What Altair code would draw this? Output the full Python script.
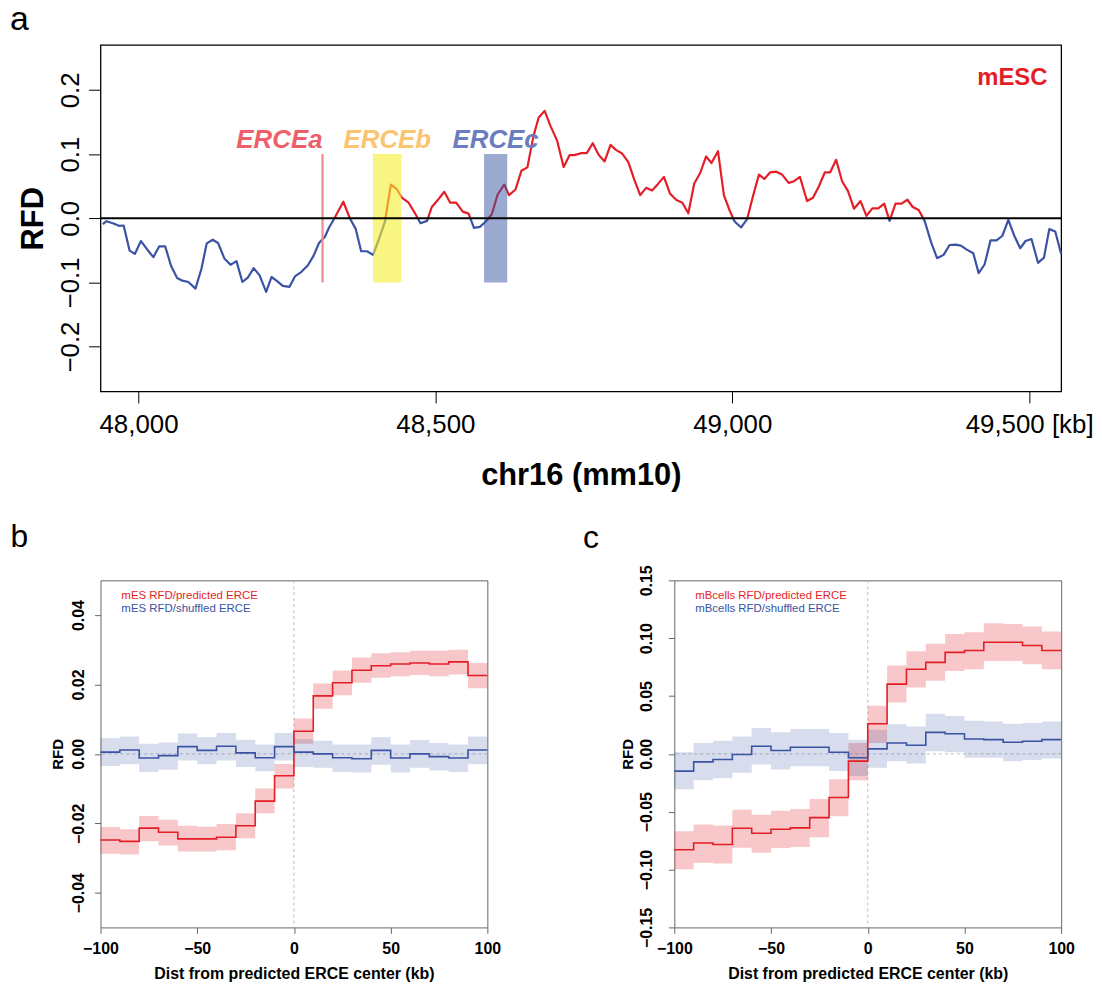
import altair as alt
import pandas as pd

FONT = "Liberation Sans"
RED = "#E41E26"
BLUE = "#3A53A4"

# ---------------- panel a : RFD along chr16 (mESC) ----------------
a_kb = [47940, 47946, 47958, 47967, 47975, 47985, 47994, 48004, 48014, 48025, 48035, 48045, 48055, 48065,
        48074, 48084, 48096, 48106, 48115, 48125, 48134, 48145, 48155, 48165, 48175, 48184, 48194, 48204,
        48215, 48224, 48234, 48243, 48254, 48264, 48274, 48285, 48295, 48304, 48314, 48321, 48330, 48345,
        48356, 48366, 48375, 48385, 48395, 48405, 48415, 48425, 48434, 48444, 48455, 48465, 48475, 48486,
        48494, 48504, 48515, 48525, 48535, 48546, 48556, 48565, 48575, 48585, 48595, 48605, 48616, 48624,
        48635, 48645, 48655, 48665, 48674, 48684, 48694, 48705, 48716, 48726, 48734, 48746, 48755, 48765,
        48775, 48785, 48795, 48804, 48814, 48825, 48835, 48845, 48855, 48865, 48875, 48885, 48895, 48906,
        48916, 48926, 48936, 48946, 48956, 48965, 48976, 48986, 48996, 49004, 49015,
        49025, 49035, 49045, 49054, 49064, 49074, 49084, 49095, 49104, 49114, 49126, 49136, 49146, 49156,
        49165, 49175, 49185, 49195, 49205, 49216, 49226, 49236, 49246, 49256, 49265, 49275, 49285, 49295,
        49304, 49314, 49324, 49335, 49345, 49356, 49366, 49376, 49385, 49395, 49406, 49415, 49425, 49435,
        49445, 49455, 49465, 49475, 49485, 49494, 49504, 49515, 49525, 49534, 49544, 49554]
a_rfd = [-0.0093, -0.0046, -0.0082, -0.0118, -0.0113, -0.0504, -0.0556, -0.0355, -0.0479, -0.0607, -0.0438,
         -0.0438, -0.0746, -0.0932, -0.0973, -0.0994, -0.1097, -0.0788, -0.0391, -0.0335, -0.0386, -0.0633,
         -0.0726, -0.0669, -0.0994, -0.0927, -0.0777, -0.0891, -0.1148, -0.0916, -0.0983, -0.1055, -0.1071,
         -0.0901, -0.0839, -0.0736, -0.0582, -0.0386, -0.0288, -0.0144, 0.0, 0.0257, 0.0, -0.0170, -0.0515,
         -0.0515, -0.0571, -0.0324, -0.0057, 0.0525, 0.0463, 0.0319, 0.0242, 0.0088, -0.0077, -0.0041,
         0.0175, 0.0283, 0.0412, 0.0242, 0.0242, 0.0103, 0.0072, -0.0149, -0.0134, -0.0051, 0.0062, 0.0371,
         0.0525, 0.0360, 0.0448, 0.0741, 0.0793, 0.1272, 0.1570, 0.1673, 0.1436, 0.1210, 0.0798, 0.0983,
         0.0983, 0.1014, 0.1014, 0.1169, 0.0988, 0.0885, 0.1143, 0.1066, 0.1014, 0.0875, 0.0602, 0.0360,
         0.0474, 0.0432, 0.0535, 0.0644, 0.0386, 0.0283, 0.0242, 0.0077, 0.0541, 0.0705, 0.0963, 0.0860,
         0.1045, 0.0355, 0.0113, -0.0051, -0.0144,
         -0.0015, 0.0345, 0.0680, 0.0613, 0.0716, 0.0726, 0.0680, 0.0551, 0.0577, 0.0644, 0.0268, 0.0319,
         0.0499, 0.0716, 0.0716, 0.0911, 0.0577, 0.0422, 0.0149, 0.0268, 0.0036, 0.0154, 0.0154, 0.0227,
         -0.0041, 0.0227, 0.0227, 0.0288, 0.0175, 0.0129, -0.0041, -0.0376, -0.0623, -0.0571, -0.0417,
         -0.0412, -0.0427, -0.0489, -0.0546, -0.0855, -0.0721, -0.0345, -0.0345, -0.0273, -0.0026, -0.0273,
         -0.0468, -0.0355, -0.0324, -0.0695, -0.0613, -0.0170, -0.0206, -0.0556]

erce_names = ["ERCEa", "ERCEb", "ERCEc"]
erce_start = [48310, 48395, 48582]
erce_end = [48310, 48443, 48621]
erce_label_colors = ["#EE5F6B", "#FBC46E", "#6A7DBE"]
erce_bottom = -0.1
erce_top = 0.1
erce_label_rfd = 0.109
cell_label = "mESC"
cell_label_kb = 49531
cell_label_rfd = 0.207

a_xdomain = [47936, 49554]
a_ydomain = [-0.27, 0.27]
a_xticks = [48000, 48500, 49000, 49500]
a_yticks = [-0.2, -0.1, 0.0, 0.1, 0.2]

# ---------------- panels b, c : aggregated RFD profiles ----------------
bin_edges = [-100, -90, -80, -70, -60, -50, -40, -30, -20, -10, 0, 10, 20, 30, 40, 50, 60, 70, 80, 90, 100]

b_pred = [-0.0248, -0.0252, -0.0214, -0.0226, -0.0245, -0.0245, -0.0240, -0.0207, -0.0136, -0.0063,
          0.0065, 0.0167, 0.0205, 0.0241, 0.0254, 0.0259, 0.0262, 0.0259, 0.0265, 0.0226]
b_pred_hi = [-0.0211, -0.0217, -0.0179, -0.0190, -0.0207, -0.0210, -0.0202, -0.0171, -0.0100, -0.0029,
             0.0102, 0.0203, 0.0240, 0.0278, 0.0290, 0.0293, 0.0297, 0.0297, 0.0300, 0.0262]
b_pred_lo = [-0.0288, -0.0290, -0.0252, -0.0264, -0.0281, -0.0281, -0.0278, -0.0243, -0.0171, -0.0100,
             0.0029, 0.0130, 0.0169, 0.0205, 0.0219, 0.0224, 0.0227, 0.0224, 0.0229, 0.0189]
b_shuf = [0.0005, 0.0011, -0.0012, -0.0005, 0.0021, 0.0010, 0.0022, 0.0003, -0.0011, 0.0021,
          0.0005, 0.0, -0.0011, -0.0014, 0.0010, -0.0012, 0.0, -0.0008, -0.0012, 0.0011]
b_shuf_hi = [0.0045, 0.0050, 0.0029, 0.0033, 0.0059, 0.0048, 0.0060, 0.0041, 0.0027, 0.0060,
             0.0043, 0.0038, 0.0027, 0.0027, 0.0048, 0.0027, 0.0040, 0.0031, 0.0027, 0.0050]
b_shuf_lo = [-0.0035, -0.0030, -0.0052, -0.0046, -0.0019, -0.0030, -0.0019, -0.0038, -0.0050, -0.0019,
             -0.0038, -0.0040, -0.0052, -0.0054, -0.0031, -0.0054, -0.0040, -0.0048, -0.0052, -0.0030]

c_pred = [-0.0828, -0.0771, -0.0783, -0.0643, -0.0686, -0.0651, -0.0640, -0.0551, -0.0377, -0.0063,
          0.0260, 0.0603, 0.0731, 0.0791, 0.0877, 0.0894, 0.0965, 0.0965, 0.0937, 0.0894]
c_pred_hi = [-0.0668, -0.0611, -0.0620, -0.0483, -0.0526, -0.0491, -0.0477, -0.0391, -0.0220, 0.0094,
             0.0417, 0.0763, 0.0888, 0.0951, 0.1037, 0.1051, 0.1128, 0.1123, 0.1100, 0.1057]
c_pred_lo = [-0.0997, -0.0940, -0.0948, -0.0811, -0.0854, -0.0814, -0.0805, -0.0720, -0.0540, -0.0229,
             0.0094, 0.0443, 0.0574, 0.0631, 0.0717, 0.0731, 0.0803, 0.0803, 0.0774, 0.0731]
c_shuf = [-0.0149, -0.0069, -0.0049, -0.0006, 0.0066, 0.0029, 0.0057, 0.0057, 0.0014, -0.0034,
          0.0043, 0.0094, 0.0074, 0.0186, 0.0174, 0.0129, 0.0123, 0.0100, 0.0109, 0.0123]
c_shuf_hi = [0.0014, 0.0094, 0.0114, 0.0151, 0.0223, 0.0186, 0.0214, 0.0214, 0.0180, 0.0123,
             0.0209, 0.0257, 0.0237, 0.0346, 0.0328, 0.0286, 0.0280, 0.0260, 0.0266, 0.0280]
c_shuf_lo = [-0.0306, -0.0229, -0.0211, -0.0163, -0.0091, -0.0134, -0.0106, -0.0106, -0.0149, -0.0191,
             -0.0120, -0.0063, -0.0083, 0.0023, 0.0014, -0.0034, -0.0034, -0.0063, -0.0054, -0.0040]

b_legend = ["mES RFD/predicted ERCE", "mES RFD/shuffled ERCE"]
c_legend = ["mBcells RFD/predicted ERCE", "mBcells RFD/shuffled ERCE"]
b_yticks = [-0.04, -0.02, 0.0, 0.02, 0.04]
c_yticks = [-0.15, -0.10, -0.05, 0.0, 0.05, 0.10, 0.15]
dist_ticks = [-100, -50, 0, 50, 100]


# ---------------- panel a ----------------
def xa(field="kb"):
    return alt.X(f"{field}:Q", scale=alt.Scale(domain=a_xdomain, nice=False, zero=False),
                 axis=alt.Axis(values=a_xticks,
                               labelExpr="datum.value == 49500 ? format(datum.value, ',') + ' [kb]' : format(datum.value, ',')",
                               title="chr16 (mm10)", labelFontSize=26, labelPadding=8.4, tickSize=11.5,
                               tickColor="black", labelFlush=False, labelOverlap=False,
                               titleFontSize=31, titleFontWeight="bold", titleBaseline="alphabetic", titleY=94))


def ya(field="rfd"):
    return alt.Y(f"{field}:Q", scale=alt.Scale(domain=a_ydomain, nice=False, zero=False),
                 axis=alt.Axis(values=a_yticks, format=".1f", labelFontSize=26, labelAngle=270,
                               labelAlign="center", labelBaseline="alphabetic", labelPadding=9.7,
                               tickSize=12, tickColor="black", labelOverlap=False,
                               title="RFD", titleFontSize=31, titleFontWeight="bold", titleAngle=270,
                               titleBaseline="alphabetic", titleX=-58.3))


a_df = pd.DataFrame({"kb": a_kb, "rfd": a_rfd})
ymax, ymin = max(a_rfd), min(a_rfd)
zero_frac = ymax / (ymax - ymin)
sign_gradient = alt.LinearGradient(
    gradient="linear", x1=0, x2=0, y1=0, y2=1,
    stops=[alt.GradientStop(color=RED, offset=0), alt.GradientStop(color=RED, offset=zero_frac),
           alt.GradientStop(color=BLUE, offset=zero_frac), alt.GradientStop(color=BLUE, offset=1)])

erce_df = pd.DataFrame({"name": erce_names, "kb": erce_start, "kb2": erce_end,
                        "rfd": [erce_bottom] * 3, "rfd2": [erce_top] * 3, "color": erce_label_colors})
erce_lab = pd.DataFrame({"name": erce_names,
                         "kb": [(s + e) / 2 for s, e in zip(erce_start, erce_end)],
                         "rfd": [erce_label_rfd] * 3, "color": erce_label_colors})

line_a = alt.Chart(a_df).mark_line(stroke=sign_gradient, strokeWidth=2.2, strokeJoin="round").encode(x=xa(), y=ya())
rule_ea = alt.Chart(erce_df.iloc[[0]]).mark_rule(color="#EF8A90", strokeWidth=2.2).encode(
    x=xa(), y=ya(), y2=alt.Y2("rfd2:Q"))
rect_eb = alt.Chart(erce_df.iloc[[1]]).mark_rect(color="#F5EE30", opacity=0.6).encode(
    x=xa(), x2=alt.X2("kb2:Q"), y=ya(), y2=alt.Y2("rfd2:Q"))
rect_ec = alt.Chart(erce_df.iloc[[2]]).mark_rect(color=BLUE, opacity=0.5).encode(
    x=xa(), x2=alt.X2("kb2:Q"), y=ya(), y2=alt.Y2("rfd2:Q"))
zero_a = alt.Chart(pd.DataFrame({"rfd": [0.0]})).mark_rule(color="black", strokeWidth=2.2).encode(y=ya())
lab_ea = alt.Chart(erce_lab.iloc[[0]].assign(kb=erce_start[0])).mark_text(
    align="right", baseline="alphabetic", fontSize=26, fontWeight="bold", fontStyle="italic").encode(
    x=xa(), y=ya(), text="name:N", color=alt.Color("color:N", scale=None))
lab_ebc = alt.Chart(erce_lab.iloc[1:]).mark_text(
    align="center", baseline="alphabetic", fontSize=26, fontWeight="bold", fontStyle="italic").encode(
    x=xa(), y=ya(), text="name:N", color=alt.Color("color:N", scale=None))
lab_cell = alt.Chart(pd.DataFrame({"kb": [cell_label_kb], "rfd": [cell_label_rfd], "t": [cell_label]})).mark_text(
    align="right", baseline="alphabetic", fontSize=24, fontWeight="bold", color=RED).encode(
    x=xa(), y=ya(), text="t:N")

pa = alt.layer(line_a, rule_ea, rect_eb, rect_ec, zero_a, lab_ea, lab_ebc, lab_cell).properties(
    width=966, height=348.4,
    title=alt.TitleParams(text="a", anchor="start", frame="group", dx=-91, dy=36.5, offset=17.8,
                          baseline="alphabetic", fontSize=34, fontWeight="normal", orient="top"),
    view=alt.ViewBackground(stroke="black", strokeWidth=1.3))


# ---------------- panels b, c ----------------
def profile_panel(letter, pred, pred_lo, pred_hi, shuf, shuf_lo, shuf_hi, y_ticks, y_dom, legend,
                  label_pad, title_x, letter_dx, letter_offset, letter_dy):
    df = pd.DataFrame({
        "dist": bin_edges,
        "pred": pred + pred[-1:], "pred_lo": pred_lo + pred_lo[-1:], "pred_hi": pred_hi + pred_hi[-1:],
        "shuf": shuf + shuf[-1:], "shuf_lo": shuf_lo + shuf_lo[-1:], "shuf_hi": shuf_hi + shuf_hi[-1:],
    })

    def X(field="dist"):
        return alt.X(f"{field}:Q", scale=alt.Scale(domain=[-100, 100], nice=False, zero=False),
                     axis=alt.Axis(values=dist_ticks, format="d", labelFontSize=16, labelFontWeight="bold",
                                   labelPadding=7, tickSize=6, tickColor="#666666", labelFlush=False,
                                   labelOverlap=False, title="Dist from predicted ERCE center (kb)",
                                   titleFontSize=16, titleFontWeight="bold", titleBaseline="alphabetic",
                                   titleY=51))

    def Y(field):
        return alt.Y(f"{field}:Q", scale=alt.Scale(domain=y_dom, nice=False, zero=False),
                     axis=alt.Axis(values=y_ticks, format=".2f", labelFontSize=16, labelFontWeight="bold",
                                   labelAngle=270, labelAlign="center", labelBaseline="alphabetic",
                                   labelPadding=label_pad, tickSize=6, tickColor="#666666", labelOverlap=False,
                                   title="RFD", titleFontSize=15, titleFontWeight="bold", titleAngle=270,
                                   titleBaseline="alphabetic", titleX=title_x))

    zero_df = pd.DataFrame({"dist": [0.0], "v": [0.0]})
    hline = alt.Chart(zero_df).mark_rule(color="#BBBBBB", strokeDash=[3, 3], strokeWidth=1).encode(y=Y("v"))
    vline = alt.Chart(zero_df).mark_rule(color="#BBBBBB", strokeDash=[3, 3], strokeWidth=1).encode(x=X())
    band_p = alt.Chart(df).mark_area(interpolate="step-after", color=RED, opacity=0.25).encode(
        x=X(), y=Y("pred_lo"), y2=alt.Y2("pred_hi:Q"))
    band_s = alt.Chart(df).mark_area(interpolate="step-after", color=BLUE, opacity=0.2).encode(
        x=X(), y=Y("shuf_lo"), y2=alt.Y2("shuf_hi:Q"))
    line_p = alt.Chart(df).mark_line(interpolate="step-after", color=RED, strokeWidth=1.6).encode(
        x=X(), y=Y("pred"))
    line_s = alt.Chart(df).mark_line(interpolate="step-after", color=BLUE, strokeWidth=1.6).encode(
        x=X(), y=Y("shuf"))
    leg_p = alt.Chart(pd.DataFrame({"t": [legend[0]]})).mark_text(
        align="left", baseline="alphabetic", fontSize=11.5, color=RED).encode(
        x=alt.value(21), y=alt.value(19), text="t:N")
    leg_s = alt.Chart(pd.DataFrame({"t": [legend[1]]})).mark_text(
        align="left", baseline="alphabetic", fontSize=11.5, color=BLUE).encode(
        x=alt.value(21), y=alt.value(32.3), text="t:N")
    return alt.layer(hline, vline, band_p, band_s, line_p, line_s, leg_p, leg_s).properties(
        width=389, height=349,
        title=alt.TitleParams(text=letter, anchor="start", frame="group", dx=letter_dx, dy=letter_dy,
                              offset=letter_offset, baseline="alphabetic", fontSize=32, fontWeight="normal",
                              orient="top"),
        view=alt.ViewBackground(stroke="#666666", strokeWidth=1))


pb = profile_panel("b", b_pred, b_pred_lo, b_pred_hi, b_shuf, b_shuf_lo, b_shuf_hi, b_yticks, [-0.05, 0.05],
                   b_legend, 10.7, -38.3, -90.5, 32, 31)
pc = profile_panel("c", c_pred, c_pred_lo, c_pred_hi, c_shuf, c_shuf_lo, c_shuf_hi, c_yticks, [-0.15, 0.15],
                   c_legend, 17, -42, -91.7, 16.1, 31)

row = alt.hconcat(pb, pc, spacing=188, bounds="flush")
chart = alt.vconcat(pa, row, spacing=189.3, bounds="flush").properties(
    padding={"left": 1, "top": -8.5, "right": 0, "bottom": 0}
).configure(font=FONT).configure_axis(
    grid=False, domain=False, labelColor="black", titleColor="black", labelFont=FONT, titleFont=FONT
).configure_title(font=FONT, color="black").configure_view(stroke="black")

chart.save("out.html", embed_options={"renderer": "svg", "actions": False})
